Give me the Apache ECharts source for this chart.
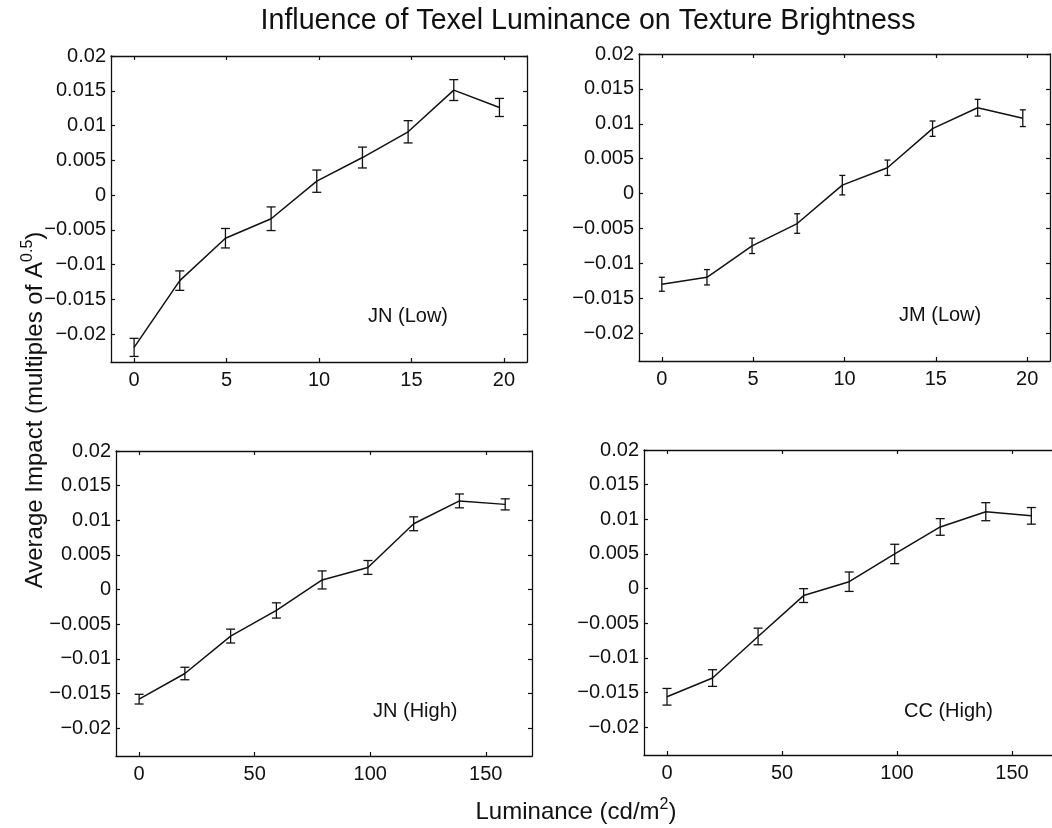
<!DOCTYPE html>
<html>
<head>
<meta charset="utf-8">
<script src="https://cdn.jsdelivr.net/npm/echarts@6/dist/echarts.min.js"></script>
<style>
  html, body { margin: 0; padding: 0; background: #fff; }
  #main { width: 1052px; height: 828px; }
</style>
</head>
<body>
<div id="main"></div>
<script>
// luminance levels (cd/m2)
var lowLum = [0, 2.47, 4.94, 7.41, 9.88, 12.35, 14.82, 17.29, 19.76];
var highLum = [0, 19.8, 39.6, 59.4, 79.2, 99, 118.8, 138.6, 158.4];

// average impact and error half-widths, one pair per panel
var jnLowMean = [-0.0219, -0.0123, -0.0062, -0.0034, 0.0020, 0.0054, 0.0091, 0.0151, 0.0126];
var jnLowErr = [0.0013, 0.0014, 0.0014, 0.0017, 0.0016, 0.0015, 0.0016, 0.0015, 0.0013];
var jmLowMean = [-0.0130, -0.0120, -0.0075, -0.0043, 0.0012, 0.0037, 0.0093, 0.0123, 0.0108];
var jmLowErr = [0.0010, 0.0011, 0.0011, 0.0014, 0.0014, 0.0011, 0.0011, 0.0012, 0.0012];
var jnHighMean = [-0.0158, -0.0121, -0.0067, -0.0030, 0.0014, 0.0032, 0.0095, 0.0128, 0.0123];
var jnHighErr = [0.0007, 0.0009, 0.0010, 0.0011, 0.0013, 0.0010, 0.0010, 0.0010, 0.0008];
var ccHighMean = [-0.0156, -0.0129, -0.0069, -0.0010, 0.0010, 0.0050, 0.0089, 0.0111, 0.0105];
var ccHighErr = [0.0012, 0.0012, 0.0012, 0.0010, 0.0014, 0.0014, 0.0012, 0.0013, 0.0012];

var yTicks = [-0.02, -0.015, -0.01, -0.005, 0, 0.005, 0.01, 0.015, 0.02];
var lowTicks = [0, 5, 10, 15, 20];
var highTicks = [0, 50, 100, 150];
var panelNames = ['JN (Low)', 'JM (Low)', 'JN (High)', 'CC (High)'];

var chart = echarts.init(document.getElementById('main'));

var ink = '#111';
var font = '"Liberation Sans", Arial, Helvetica, sans-serif';

var panels = [
  {x: lowLum, mean: jnLowMean, err: jnLowErr, ticks: lowTicks, min: -1.25, max: 21.25, cap: 4.5,
   grid: {left: 111, top: 56, width: 416, height: 306}, label: [368, 317]},
  {x: lowLum, mean: jmLowMean, err: jmLowErr, ticks: lowTicks, min: -1.25, max: 21.25, cap: 3,
   grid: {left: 639, top: 54, width: 411, height: 307}, label: [899, 316]},
  {x: highLum, mean: jnHighMean, err: jnHighErr, ticks: highTicks, min: -10, max: 170, cap: 4.5,
   grid: {left: 116, top: 451, width: 416, height: 305}, label: [373, 712]},
  {x: highLum, mean: ccHighMean, err: ccHighErr, ticks: highTicks, min: -10, max: 170, cap: 4.5,
   grid: {left: 644, top: 450, width: 414, height: 305}, label: [904, 712]}
];

function yFmt(v) {
  if (Math.abs(v) < 1e-9) return '0';
  return String(+v.toFixed(3)).replace('-', '\u2212');
}

function errorBars(halfCap) {
  return function (params, api) {
    var x = api.value(0);
    var lo = api.coord([x, api.value(1)]);
    var hi = api.coord([x, api.value(2)]);
    var st = {stroke: ink, lineWidth: 1.3};
    return {
      type: 'group',
      children: [
        {type: 'line', shape: {x1: lo[0], y1: lo[1], x2: hi[0], y2: hi[1]}, style: st},
        {type: 'line', shape: {x1: lo[0] - halfCap, y1: lo[1], x2: lo[0] + halfCap, y2: lo[1]}, style: st},
        {type: 'line', shape: {x1: hi[0] - halfCap, y1: hi[1], x2: hi[0] + halfCap, y2: hi[1]}, style: st}
      ]
    };
  };
}

var grids = [], xAxes = [], yAxes = [], series = [], graphics = [];

panels.forEach(function (p, i) {
  var g = p.grid;
  g.outerBoundsMode = 'none';
  g.containLabel = false;
  grids.push(g);
  var axLine = {show: true, onZero: false, lineStyle: {color: ink, width: 1.3}};
  var tickX = {show: true, inside: true, length: 4, customValues: p.ticks, lineStyle: {color: ink, width: 1.2}};
  var tickY = {show: true, inside: true, length: 4, customValues: yTicks, lineStyle: {color: ink, width: 1.2}};
  xAxes.push({
    type: 'value', gridIndex: i, position: 'bottom', min: p.min, max: p.max,
    axisLine: axLine, axisTick: tickX, splitLine: {show: false},
    axisLabel: {customValues: p.ticks, color: ink, fontSize: 20, fontFamily: font, margin: 8}
  });
  xAxes.push({
    type: 'value', gridIndex: i, position: 'top', min: p.min, max: p.max,
    axisLine: axLine, axisTick: tickX, splitLine: {show: false}, axisLabel: {show: false}
  });
  yAxes.push({
    type: 'value', gridIndex: i, position: 'left', min: -0.024, max: 0.02,
    axisLine: axLine, axisTick: tickY, splitLine: {show: false},
    axisLabel: {customValues: yTicks, formatter: yFmt, color: ink, fontSize: 20, fontFamily: font, margin: 5}
  });
  yAxes.push({
    type: 'value', gridIndex: i, position: 'right', min: -0.024, max: 0.02,
    axisLine: axLine, axisTick: tickY, splitLine: {show: false}, axisLabel: {show: false}
  });

  var pts = p.x.map(function (x, k) { return [x, p.mean[k]]; });
  var bars = p.x.map(function (x, k) { return [x, p.mean[k] - p.err[k], p.mean[k] + p.err[k]]; });

  series.push({
    type: 'line', xAxisIndex: 2 * i, yAxisIndex: 2 * i, data: pts,
    symbol: 'none', lineStyle: {color: ink, width: 1.5}, silent: true, animation: false
  });
  series.push({
    type: 'custom', xAxisIndex: 2 * i, yAxisIndex: 2 * i, data: bars,
    encode: {x: 0, y: [1, 2]}, renderItem: errorBars(p.cap), silent: true, animation: false
  });

  graphics.push({
    type: 'text', left: p.label[0], top: p.label[1] - 11,
    style: {text: panelNames[i], fill: ink, font: '20px ' + font}
  });
});

var richName = {
  n: {fontSize: 24, lineHeight: 30, fontFamily: font, color: ink},
  s: {fontSize: 16, lineHeight: 16, fontFamily: font, color: ink, verticalAlign: 'top'}
};

graphics.push({
  type: 'text', x: 588, y: 21,
  style: {text: 'Influence of Texel Luminance on Texture Brightness', fill: ink,
    font: '28.6px ' + font, textAlign: 'center', textVerticalAlign: 'middle'}
});
graphics.push({
  type: 'text', x: 576, y: 812,
  style: {
    text: '{n|Luminance (cd/m}{s|2}{n|)}', fill: ink, textAlign: 'center', textVerticalAlign: 'middle',
    rich: richName
  }
});
graphics.push({
  type: 'text', x: 35, y: 410, rotation: Math.PI / 2,
  style: {
    text: '{n|Average Impact (multiples of A}{s|0.5}{n|)}', fill: ink, textAlign: 'center', textVerticalAlign: 'middle',
    rich: richName
  }
});

var option = {
  backgroundColor: '#fff',
  animation: false,
  grid: grids,
  xAxis: xAxes,
  yAxis: yAxes,
  series: series,
  graphic: graphics
};
chart.setOption(option);
</script>
</body>
</html>
